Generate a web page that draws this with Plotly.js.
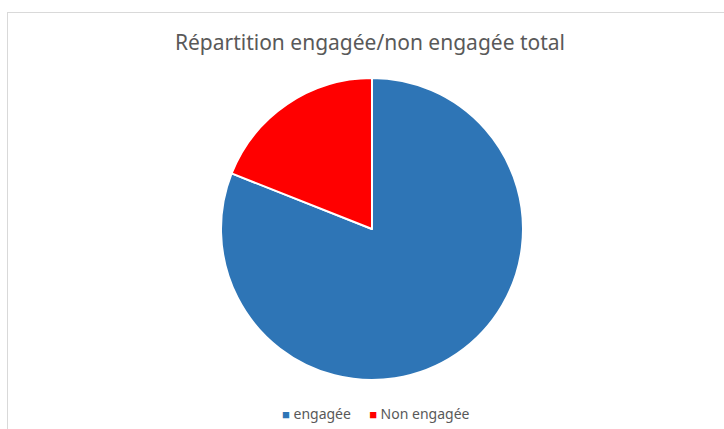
<!DOCTYPE html>
<html>
<head>
<meta charset="utf-8">
<script src="https://cdn.plot.ly/plotly-3.0.1.min.js"></script>
<style>
html,body{margin:0;padding:0;background:#fff;}
#frame{position:absolute;left:7px;top:12px;width:730px;height:430px;border-left:1px solid #d9d9d9;border-top:1px solid #d9d9d9;}
#chart{position:absolute;left:0;top:0;width:724px;height:429px;}
</style>
</head>
<body>
<div id="frame"></div>
<div id="chart"></div>
<script>
const categories = ["engagée", "Non engagée"];
const values = [81, 19];
const colors = ["#2e75b6", "#ff0000"];

const legendText = categories.map((c, i) =>
  '<span style="color:' + colors[i] + ';font-size:13px">■</span> ' + c
).join('     ');

Plotly.newPlot("chart", [{
  type: "pie",
  labels: categories,
  values: values,
  sort: false,
  direction: "clockwise",
  rotation: 0,
  textinfo: "none",
  hoverinfo: "label+percent",
  showlegend: false,
  marker: {colors: colors, line: {color: "#ffffff", width: 2}}
}], {
  width: 724, height: 429,
  paper_bgcolor: "rgba(0,0,0,0)",
  plot_bgcolor: "rgba(0,0,0,0)",
  margin: {l: 20, r: 0, t: 78, b: 49},
  title: {text: "Répartition engagée/non engagée total", x: 0.511, xanchor: "center", y: 0.9, yanchor: "middle",
          font: {family: "Noto Sans, sans-serif", size: 21, color: "#595959"}},
  showlegend: false,
  annotations: [{
    text: legendText, xref: "paper", yref: "paper", x: 0.505, y: -0.112,
    xanchor: "center", yanchor: "middle", showarrow: false,
    font: {family: "Noto Sans, sans-serif", size: 14, color: "#595959"}
  }]
}, {displayModeBar: false, staticPlot: true});
</script>
</body>
</html>
